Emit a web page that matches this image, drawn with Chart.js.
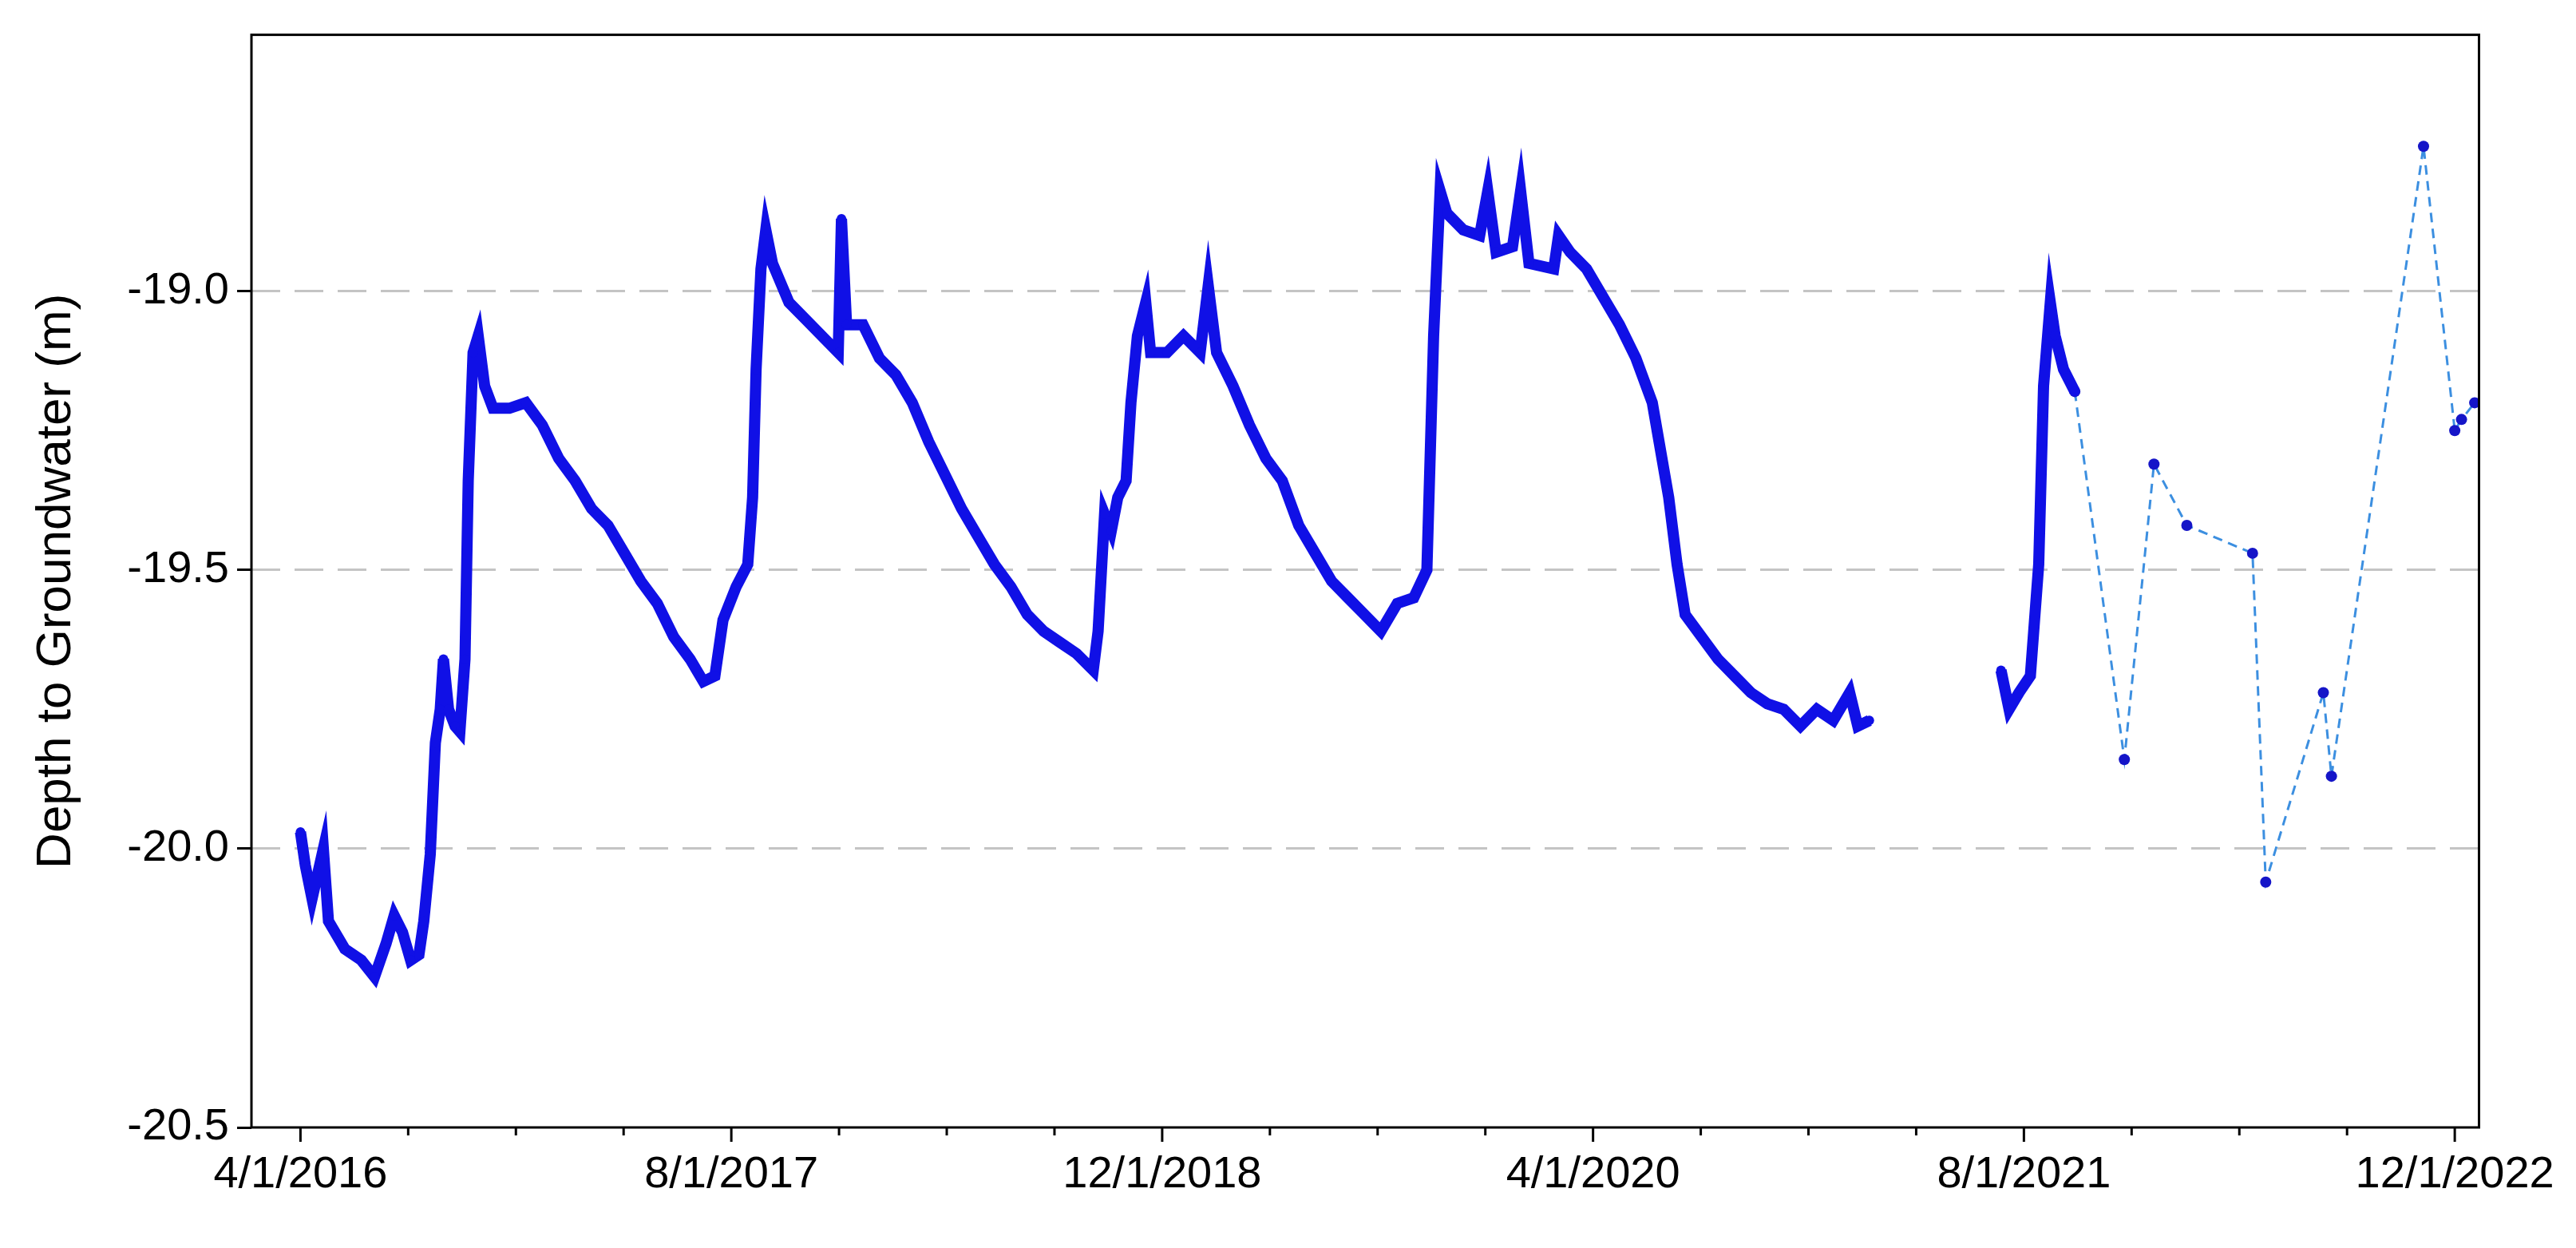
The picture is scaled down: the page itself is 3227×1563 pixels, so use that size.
<!DOCTYPE html>
<html>
<head>
<meta charset="utf-8">
<script src="https://cdn.jsdelivr.net/npm/chart.js@4.4.0/dist/chart.umd.min.js"></script>
<style>
  html, body { margin: 0; padding: 0; background: #fff; }
  #wrap { width: 3227px; height: 1563px; }
</style>
</head>
<body>
<div id="wrap"><canvas id="gw"></canvas></div>
<script>
// months after 4/1/2016, depth to groundwater (m)
const loggerMonths = [0,0.18,0.43,0.85,1.04,1.65,2.26,2.75,3.18,3.48,3.79,4.09,4.40,4.58,4.82,5.01,5.19,5.31,5.50,5.74,5.92,6.11,6.23,6.41,6.60,6.84,7.15,7.76,8.37,8.98,9.59,10.20,10.81,11.42,12.03,12.64,13.25,13.86,14.47,14.96,15.39,15.69,16.18,16.61,16.79,16.92,17.10,17.28,17.53,18.14,18.75,19.36,19.97,20.09,20.28,20.89,21.50,22.11,22.72,23.33,23.94,24.55,25.16,25.77,26.38,26.99,27.60,28.21,28.82,29.44,29.62,29.86,30.11,30.35,30.66,30.84,31.08,31.39,31.57,32.18,32.79,33.41,33.71,34.02,34.63,35.24,35.85,36.46,37.07,37.68,38.29,38.90,39.51,40.12,40.73,41.34,41.83,42.08,42.32,42.57,43.18,43.79,44.09,44.40,45.01,45.31,45.62,46.54,46.72,47.15,47.76,48.37,48.98,49.59,50.20,50.81,51.12,51.42,52.03,52.64,53.25,53.86,54.47,55.08,55.70,56.31,56.92,57.53,57.83,58.26,
  null,
  63.15,63.45,63.82,64.24,64.55,64.73,64.98,65.16,65.47,65.89];
const loggerDepth = [-19.97,-20.03,-20.09,-20.00,-20.13,-20.18,-20.20,-20.23,-20.17,-20.12,-20.15,-20.20,-20.19,-20.13,-20.01,-19.81,-19.75,-19.66,-19.75,-19.78,-19.79,-19.66,-19.34,-19.11,-19.08,-19.17,-19.21,-19.21,-19.20,-19.24,-19.30,-19.34,-19.39,-19.42,-19.47,-19.52,-19.56,-19.62,-19.66,-19.70,-19.69,-19.59,-19.53,-19.49,-19.37,-19.14,-18.96,-18.89,-18.95,-19.02,-19.05,-19.08,-19.11,-18.87,-19.06,-19.06,-19.12,-19.15,-19.20,-19.27,-19.33,-19.39,-19.44,-19.49,-19.53,-19.58,-19.61,-19.63,-19.65,-19.68,-19.61,-19.40,-19.43,-19.37,-19.34,-19.20,-19.08,-19.02,-19.11,-19.11,-19.08,-19.11,-18.99,-19.11,-19.17,-19.24,-19.30,-19.34,-19.42,-19.47,-19.52,-19.55,-19.58,-19.61,-19.56,-19.55,-19.50,-19.08,-18.82,-18.86,-18.89,-18.90,-18.82,-18.93,-18.92,-18.82,-18.95,-18.96,-18.90,-18.93,-18.96,-19.01,-19.06,-19.12,-19.20,-19.37,-19.49,-19.58,-19.62,-19.66,-19.69,-19.72,-19.74,-19.75,-19.78,-19.75,-19.77,-19.72,-19.78,-19.77,
  null,
  -19.68,-19.75,-19.72,-19.69,-19.49,-19.17,-19.02,-19.08,-19.14,-19.18];
const manualMonths = [65.89,67.73,68.83,70.05,72.49,72.98,75.12,75.42,78.84,80.00,80.25,80.74];
const manualDepth = [-19.18,-19.84,-19.31,-19.42,-19.47,-20.06,-19.72,-19.87,-18.74,-19.25,-19.23,-19.20];
const tickMonths = [0,4,8,12,16,20,24,28,32,36,40,44,48,52,56,60,64,68,72,76,80];
const tickLabels = {0:'4/1/2016',16:'8/1/2017',32:'12/1/2018',48:'4/1/2020',64:'8/1/2021',80:'12/1/2022'};
const yTicks = [-20.5,-20.0,-19.5,-19.0];

const toPts = (xs, ys) => xs.map((x, i) => x === null ? {x: null, y: null} : {x: x, y: ys[i]});

const frame = {
  id: 'frame',
  afterDraw(chart) {
    const c = chart.ctx, a = chart.chartArea, xs = chart.scales.x;
    c.save();
    c.strokeStyle = '#000'; c.lineWidth = 3;
    c.strokeRect(a.left, a.top, a.right - a.left, a.bottom - a.top);
    tickMonths.forEach(m => {
      const px = xs.getPixelForValue(m);
      const len = tickLabels[m] ? 18 : 10;
      c.beginPath(); c.moveTo(px, a.bottom); c.lineTo(px, a.bottom + len); c.stroke();
    });
    c.restore();
  }
};

new Chart(document.getElementById('gw'), {
  type: 'line',
  data: {
    datasets: [
      {
        data: toPts(loggerMonths, loggerDepth),
        borderColor: '#1010e6', backgroundColor: '#1010e6',
        borderWidth: 14, pointRadius: 6, pointBorderWidth: 0, spanGaps: false
      },
      {
        data: toPts(manualMonths, manualDepth),
        borderColor: '#3c8fe0', backgroundColor: '#1515c8',
        borderWidth: 3, borderDash: [12, 8], pointRadius: 7, pointBorderWidth: 0
      }
    ]
  },
  options: {
    responsive: true, maintainAspectRatio: false, animation: false,
    layout: { padding: { top: 30, right: 120, left: 30, bottom: 0 } },
    plugins: { legend: { display: false }, tooltip: { enabled: false } },
    scales: {
      x: {
        type: 'linear', min: -1.82, max: 80.9,
        afterBuildTicks: s => { s.ticks = tickMonths.map(v => ({value: v})); },
        afterFit: s => { s.height = 151; },
        grid: { drawOnChartArea: false, drawTicks: false },
        border: { display: false },
        ticks: {
          autoSkip: false, maxRotation: 0, padding: 26, color: '#000',
          font: { family: 'Liberation Sans', size: 56 },
          callback: v => tickLabels[v] || ''
        }
      },
      y: {
        min: -20.5, max: -18.54,
        afterBuildTicks: s => { s.ticks = yTicks.map(v => ({value: v})); },
        afterFit: s => { s.width = 285; },
        border: { display: false, dash: [36, 18] },
        grid: {
          color: ctx => ctx.tick && ctx.tick.value === -20.5 ? 'rgba(0,0,0,0)' : '#c4c4c4',
          lineWidth: 3, tickLength: 18, tickColor: '#000'
        },
        ticks: {
          color: '#000', padding: 10,
          font: { family: 'Liberation Sans', size: 56 },
          callback: v => v.toFixed(1)
        },
        title: {
          display: true, text: 'Depth to Groundwater (m)', color: '#000',
          font: { family: 'Liberation Sans', size: 62 }, padding: { bottom: 14 }
        }
      }
    }
  },
  plugins: [frame]
});
</script>
</body>
</html>
